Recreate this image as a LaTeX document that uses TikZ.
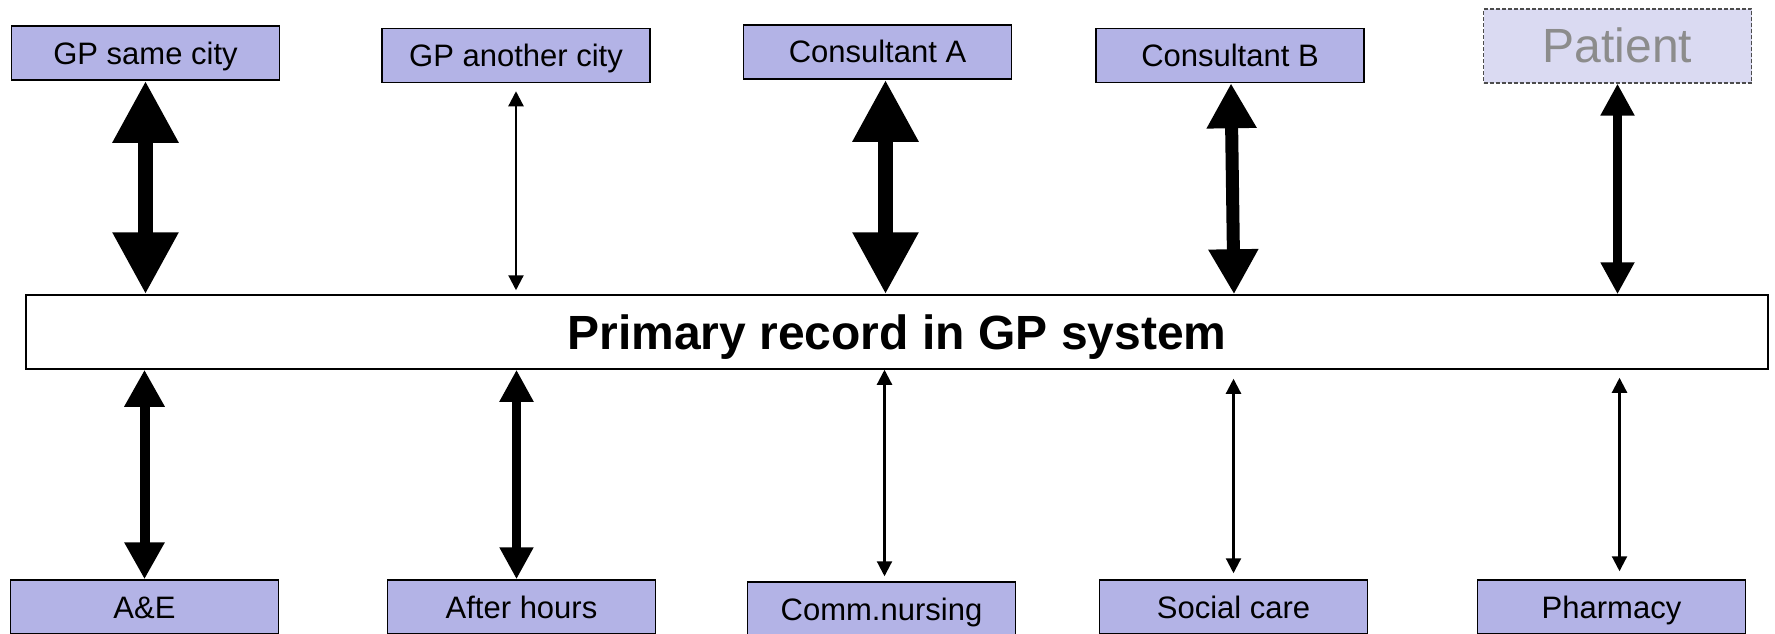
\documentclass[tikz,border=0pt]{standalone}
\usepackage{fontspec}
\setmainfont{Liberation Sans}
\usetikzlibrary{arrows.meta}
\definecolor{GPLilac}{HTML}{B3B3E6}
\definecolor{GPPale}{HTML}{DADAF2}
\definecolor{GPGrey}{HTML}{8C8C8C}

\begin{document}
\begin{tikzpicture}[
  x=1pt,y=-1pt,
  box/.style={draw=black,line width=1.5pt,fill=GPLilac,minimum width=268pt,
    minimum height=54pt,inner sep=0pt,text height=22pt,text depth=0pt,
    font=\fontsize{31}{36}\selectfont},
  pat/.style={draw=black!70,line width=1.2pt,dash pattern=on 4pt off 2pt,fill=GPPale,
    minimum width=268pt,minimum height=74pt,inner sep=0pt,text=GPGrey,
    text height=34pt,text depth=0pt,font=\fontsize{48}{56}\selectfont},
  rec/.style={draw=black,line width=1.5pt,fill=white,minimum width=1742pt,
    minimum height=74pt,inner sep=0pt,text height=34pt,text depth=0pt,
    font=\fontsize{48}{56}\selectfont\bfseries},
  big/.style={line width=15pt,>={Triangle[width=62pt,length=62pt]},<->},
  large/.style={line width=13pt,>={Triangle[width=47pt,length=45pt]},<->},
  mid/.style={line width=10pt,>={Triangle[width=38pt,length=37pt]},<->},
  small/.style={line width=8.5pt,>={Triangle[width=32pt,length=32pt]},<->},
  thin/.style={line width=2.2pt,>={Triangle[width=15pt,length=15pt]},<->}
]
  \useasboundingbox (0,0) rectangle (1775,634);
  % the record in the middle
  \node[rec] (main) at (897,332) {Primary record in GP system};
  % top row
  \node[box] (gpsame) at (145.5,53) {GP same city};
  \node[box] (gpother) at (516,55.5) {GP another city};
  \node[box] (consa) at (877.5,52) {Consultant A};
  \node[box] (consb) at (1230,55.5) {Consultant B};
  \node[pat] (patient) at (1617.5,46) {Patient};
  % bottom row
  \node[box] (ae) at (144.5,607) {A\&E};
  \node[box] (afterh) at (521.5,607) {After hours};
  \node[box] (nursing) at (881.5,609) {Comm.nursing};
  \node[box] (social) at (1233.5,607) {Social care};
  \node[box] (pharmacy) at (1611.5,607) {Pharmacy};
  % links above
  \draw[big] (gpsame.south) -- (gpsame.south |- main.north);
  \draw[thin,shorten <=8pt,shorten >=4pt] (gpother.south) -- (gpother.south |- main.north);
  \draw[big] ([xshift=8pt]consa.south) -- ([xshift=8pt]consa.south |- main.north);
  \draw[large] ([xshift=1pt]consb.south) -- ([xshift=4pt]consb.south |- main.north);
  \draw[small] (patient.south) -- (patient.south |- main.north);
  % links below
  \draw[mid] (ae.north |- main.south) -- (ae.north);
  \draw[small] ([xshift=-5pt]afterh.north |- main.south) -- ([xshift=-5pt]afterh.north);
  \draw[thin,shorten >=5pt] ([xshift=3pt]nursing.north |- main.south) -- ([xshift=3pt]nursing.north);
  \draw[thin,shorten <=9pt,shorten >=6pt] (social.north |- main.south) -- (social.north);
  \draw[thin,shorten <=8pt,shorten >=8pt] ([xshift=8pt]pharmacy.north |- main.south) -- ([xshift=8pt]pharmacy.north);
\end{tikzpicture}
\end{document}
